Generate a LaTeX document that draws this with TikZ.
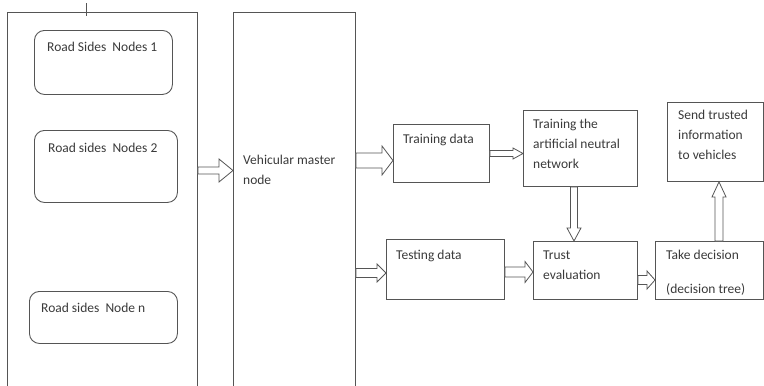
\documentclass[tikz,border=0pt]{standalone}
\usepackage{fontspec}
\setmainfont{Carlito}
\usetikzlibrary{calc}

\definecolor{edge}{HTML}{555555}
\definecolor{ink}{HTML}{3A3A3A}

% hollow block arrow: start, end, shaft half width, head half width, head length
\newcommand{\fatarrow}[5]{%
  \coordinate (fa-s) at (#1);
  \coordinate (fa-e) at (#2);
  \coordinate (fa-h) at ($(fa-e)!#5!(fa-s)$);
  \draw[fat] ($(fa-s)!#3!90:(fa-e)$) -- ($(fa-h)!#3!90:(fa-e)$)
    -- ($(fa-h)!#4!90:(fa-e)$) -- (fa-e) -- ($(fa-h)!#4!-90:(fa-e)$)
    -- ($(fa-h)!#3!-90:(fa-e)$) -- ($(fa-s)!#3!-90:(fa-e)$) -- cycle;
}

\tikzset{
  blk/.style={draw=edge, line width=0.9pt, anchor=north west, inner sep=0pt},
  rblk/.style={blk, rounded corners=10pt},
  txt/.style={anchor=base west, inner sep=0pt, align=left, text=ink,
    font=\fontsize{13.5}{20}\selectfont},
  fat/.style={draw=edge, line width=0.8pt, fill=white, line join=miter}
}

\begin{document}
\begin{tikzpicture}[x=1pt, y=-1pt]
  \useasboundingbox (0,0) rectangle (764,386);

  % Road side units
  \node[blk, minimum width=190pt, minimum height=380pt] (outer) at (7,12) {};
  \draw[edge, line width=0.9pt] ([xshift=-16pt, yshift=9pt]outer.north)
    -- ([xshift=-16pt, yshift=-4pt]outer.north);

  \node[rblk, minimum width=138pt, minimum height=64pt] (rsu1) at (34,30) {};
  \node[rblk, minimum width=143pt, minimum height=72pt] (rsu2) at (34,130) {};
  \node[rblk, minimum width=148pt, minimum height=52pt] (rsun) at (29,291) {};
  \node[txt] (rsu1t) at (47,51) {Road Sides\ \ Nodes 1};
  \node[txt] (rsu2t) at (48,152) {Road sides\ \ Nodes 2};
  \node[txt] (rsunt) at (41,312) {Road sides\ \ Node n};

  % Master node (text anchored at its last baseline)
  \node[blk, minimum width=122pt, minimum height=380pt] (master) at (233,12) {};
  \node[txt] (mastert) at (243,184) {Vehicular master\\node};

  % Processing boxes
  \node[blk, minimum width=96pt, minimum height=58pt] (train) at (393,124) {};
  \node[txt] (traint) at (403,143) {Training data};
  \node[blk, minimum width=118pt, minimum height=60pt] (test) at (386,239) {};
  \node[txt] (testt) at (396,259) {Testing data};
  \node[blk, minimum width=114pt, minimum height=76pt] (ann) at (523,110) {};
  \node[txt] (annt) at (533,168) {Training the\\artificial neutral\\network};
  \node[blk, minimum width=104pt, minimum height=58pt] (trust) at (533,241) {};
  \node[txt] (trustt) at (543,279) {Trust\\evaluation};
  \node[blk, minimum width=108pt, minimum height=58pt] (take) at (655,241) {};
  \node[txt] (taket) at (666,293) {Take decision\\[14pt](decision tree)};
  \node[blk, minimum width=96pt, minimum height=79pt] (send) at (667,102) {};
  \node[txt] (sendt) at (678,159) {Send trusted\\information\\to vehicles};

  % Block arrows
  \fatarrow{outer.east |- 0,170.5}{master.west |- 0,170.5}{3.5pt}{11.5pt}{14pt}
  \fatarrow{master.east |- 0,160.5}{train.west |- 0,160.5}{7.5pt}{14.5pt}{11pt}
  \fatarrow{master.east |- 0,273}{test.west |- 0,273}{4.5pt}{9pt}{9pt}
  \fatarrow{train.east |- 0,153.5}{ann.west |- 0,153.5}{3pt}{5.5pt}{10pt}
  \fatarrow{ann.south -| 574,0}{trust.north -| 574,0}{3.5pt}{7pt}{13pt}
  \fatarrow{test.east |- 0,272}{trust.west |- 0,272}{5pt}{10.5pt}{8pt}
  \fatarrow{trust.east |- 0,280}{take.west |- 0,280}{4.5pt}{9pt}{8pt}
  \fatarrow{take.north -| 719,0}{send.south -| 719,0}{4pt}{7pt}{15pt}
\end{tikzpicture}
\end{document}
